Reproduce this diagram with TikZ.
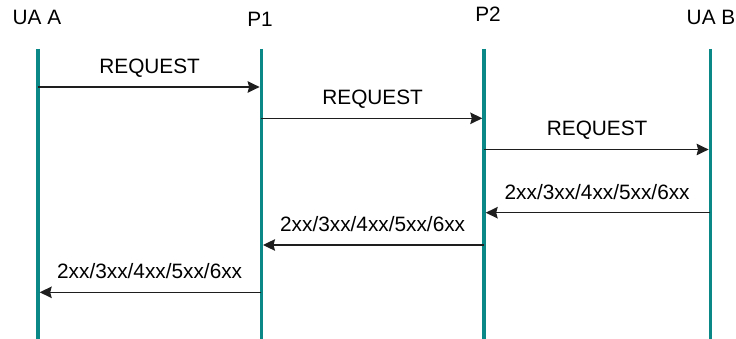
\documentclass[tikz,border=0pt]{standalone}
\usepackage{fontspec}
\setmainfont{Liberation Sans}
\usetikzlibrary{arrows.meta}
\definecolor{lifeteal}{RGB}{10,136,136}
\definecolor{msgline}{RGB}{30,30,30}
\begin{document}
\begin{tikzpicture}[x=1pt,y=-1pt,
  lifeline/.style={draw=lifeteal,line width=3.3pt},
  msg/.style={draw=msgline,line width=1.2pt,-{Stealth[length=12pt,width=11.5pt,inset=1.5pt]},shorten >=1.7pt},
  lbl/.style={font=\fontsize{20.8}{24}\selectfont,anchor=base,inner sep=0pt},
  head/.style={font=\fontsize{20.8}{24}\selectfont,anchor=base,inner sep=0pt}]
\useasboundingbox (0,0) rectangle (736,339);
% headers
\node[head] (hA) at (37,25) {UA A};
\node[head] (hP1) at (260,27) {P1};
\node[head] (hP2) at (488,21.7) {P2};
\node[head] (hB) at (711,25) {UA B};
% lifeline ends
\coordinate (At) at (38,49);  \coordinate (Ab) at (38,339);
\coordinate (P1t) at (261.3,49); \coordinate (P1b) at (261.3,339);
\coordinate (P2t) at (484,49); \coordinate (P2b) at (484,339);
\coordinate (Bt) at (710.3,49); \coordinate (Bb) at (710.3,339);
\draw[lifeline] (At) -- (Ab);
\draw[lifeline] (P1t) -- (P1b);
\draw[lifeline] (P2t) -- (P2b);
\draw[lifeline] (Bt) -- (Bb);
% message points
\coordinate (A1) at (38,87);  \coordinate (P1a) at (261.3,87);
\coordinate (P1c) at (261.3,118.3); \coordinate (P2a) at (484,118.3);
\coordinate (P2c) at (484,149.5); \coordinate (B1) at (710.3,149.5);
\coordinate (B2) at (710.3,212.7); \coordinate (P2d) at (484,212.7);
\coordinate (P2e) at (484,245); \coordinate (P1d) at (261.3,245);
\coordinate (P1e) at (261.3,292.3); \coordinate (A2) at (38,292.3);
\draw[msg] (A1) -- (P1a) node[lbl,midway,yshift=13.7pt] (m1) {REQUEST};
\draw[msg] (P1c) -- (P2a) node[lbl,midway,yshift=13.7pt] (m2) {REQUEST};
\draw[msg] (P2c) -- (B1) node[lbl,midway,yshift=13.7pt] (m3) {REQUEST};
\draw[msg] (B2) -- (P2d) node[lbl,midway,yshift=13pt] (m4) {2xx/3xx/4xx/5xx/6xx};
\draw[msg] (P2e) -- (P1d) node[lbl,midway,yshift=13.5pt] (m5) {2xx/3xx/4xx/5xx/6xx};
\draw[msg] (P1e) -- (A2) node[lbl,midway,yshift=14pt] (m6) {2xx/3xx/4xx/5xx/6xx};
\end{tikzpicture}
\end{document}
